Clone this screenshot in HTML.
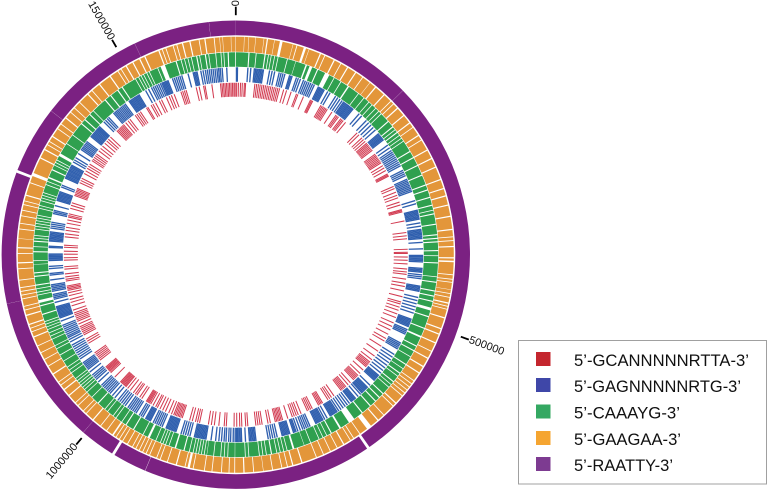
<!DOCTYPE html>
<html>
<head>
<meta charset="utf-8">
<title>Motif distribution circular genome plot</title>
<style>
html,body{margin:0;padding:0;background:#fff;}
svg{display:block;}
text{font-family:"Liberation Sans",sans-serif;}
</style>
</head>
<body>
<svg id="plot" xmlns="http://www.w3.org/2000/svg" width="767" height="490" viewBox="0 0 767 490">
  <rect x="0" y="0" width="767" height="490" fill="#ffffff"/>
  <g id="ring-purple"></g>
  <g id="ring-orange"></g>
  <g id="ring-green"></g>
  <g id="ring-blue"></g>
  <g id="ring-red"></g>
  <g id="ticks"></g>
  <g>
    <rect x="518.5" y="340.5" width="248" height="143.5" fill="#ffffff" stroke="#a0a0a0" stroke-width="1"/>
    <rect x="536" y="352" width="14.5" height="14" fill="#c4262e"/>
    <text x="574" y="366" font-size="17" fill="#111111" textLength="175" lengthAdjust="spacingAndGlyphs">5’-GCANNNNNRTTA-3’</text>
    <rect x="536" y="378" width="14.5" height="14" fill="#3f47a8"/>
    <text x="574" y="392" font-size="17" fill="#111111" textLength="167" lengthAdjust="spacingAndGlyphs">5’-GAGNNNNNRTG-3’</text>
    <rect x="536" y="404.5" width="14.5" height="14" fill="#34a862"/>
    <text x="574" y="418.5" font-size="17" fill="#111111" textLength="106" lengthAdjust="spacingAndGlyphs">5’-CAAAYG-3’</text>
    <rect x="536" y="431" width="14.5" height="14" fill="#f5a531"/>
    <text x="574" y="445" font-size="17" fill="#111111" textLength="107" lengthAdjust="spacingAndGlyphs">5’-GAAGAA-3’</text>
    <rect x="536" y="457" width="14.5" height="14" fill="#7d3b91"/>
    <text x="574" y="471" font-size="17" fill="#111111" textLength="99" lengthAdjust="spacingAndGlyphs">5’-RAATTY-3’</text>
  </g>
</svg>
<script>
// Genome axis: positions below are given in genome bins (1 bin = genomeBp / binCount base pairs).
const genomeBp = 1636000;
const binCount = 360;
const tickValues = [0, 500000, 1000000, 1500000];
const tickLabels = ["0", "500000", "1000000", "1500000"];

// 5'-RAATTY-3' contigs/runs [start, end]
const purpleRuns = [[0,45.48],[45.52,145.2],[145.9,202.74],[202.82,211.2],[211.9,220.62],[220.66,257.88],[257.92,290.5],[291.2,307.88],[307.92,334.38],[334.42,353.38],[353.42,360]];

// 5'-GAAGAA-3' hit clusters [start, end]
const orangeRuns = [[0,2],[2.3,3.2],[3.5,5],[5.3,7.2],[7.5,8],[8.5,10],[10.3,11.5],[12.4,15],[15.3,16],[16.4,18],[18.8,19.4],[19.7,22.5],[23,23.8],[24.2,26.5],[27,28.5],[28.9,30.5],[31,33],[33.5,35.3],[35.7,37.7],[38,39.5],[40,42.5],[43,45],[45.4,46],[46.4,47.5],[48,50],[50.5,52.5],[53,54],[54.4,56.5],[57,58],[58.4,61],[61.5,63.5],[64,66],[66.5,69.5],[70,72],[72.5,74],[74.5,76.5],[77,79.5],[80,83],[83.5,85],[85.4,86],[86.4,87.5],[88,90.5],
[91,91.4],[92,95],[95.4,96.2],[96.6,97],[97.4,99],[99.3,100],[100.4,101],[101.4,102.5],[103,103.4],[103.8,104.2],[104.6,106.5],[107,109.5],[110,111],[111.5,113.5],[114,116],[116.4,118],[118.5,120.5],[121,122.5],[123,125],[125.4,126],[126.4,127],[127.4,128],[128.4,129],[129.4,130],[130.4,132.5],[133,133.6],[134,137],[137.4,139],[139.5,141.5],[143,145],[145.4,147],[147.4,148],[148.4,150],[150.5,152],[152.4,154],[154.4,156],[156.4,158],[158.4,162],[162.5,164.5],[165,166],[166.4,167.5],[167.9,170],[170.4,172.5],[172.8,175],[175.4,177.5],[178,180],
[180.4,181.5],[181.9,183.5],[183.9,186],[186.4,188],[188.4,191],[191.4,192],[192.8,193.2],[193.6,195.5],[196,198],[198.4,200],[200.4,201],[201.4,203],[203.4,204],[204.4,205],[205.4,206],[206.4,207],[207.4,208],[208.4,209.5],[209.9,211],[211.4,212],[212.4,213],[213.4,213.9],[214.5,216],[216.4,218],[218.4,220.5],[221,223],[223.4,224],[224.4,226],[226.4,227],[227.4,229.5],[230,231.5],[232,233],[233.4,234],[234.4,236.5],[237,239],[239.4,241],[241.4,243],[243.4,245],[245.4,247.5],[248,249],[249.4,250],[250.4,251],[251.5,253.5],[254,255],[255.4,256],[256.4,258],[258.4,259],[259.4,260],[260.4,261],[261.4,263],[263.4,266],[266.4,267.5],[268,270],[270.4,271.5],[272,274],[274.3,276.5],[276.9,278],[278.4,280],[280.4,281.5],[281.9,283],[283.4,284],[284.4,285.5],[286,289],[289.4,291],[292,296],[296.5,298.5],[299,300],[300.4,301],[301.4,302.5],[303,305],[305.4,306.5],[306.9,308.5],[309,310.5],[310.9,312],[312.4,314],[314.4,317],[317.5,318.5],[318.9,321],[321.5,324.5],[325,327],[327.4,328],[328.4,329.5],[330,331.5],[332,333.5],[334,335],[335.5,339],[339.5,340],[340.4,341],[341.4,343],[343.4,344],[344.4,345.5],[346,347.5],[348,350],[350.4,351.5],[352,354],[354.4,355.5],[355.8,356.3],[356.6,358.5],[358.8,359.7]];

// 5'-CAAAYG-3' hit clusters [start, end]
const greenRuns = [[0,3.4],[3.9,5.5],[5.9,8],[8.5,9],[9.4,9.8],[10.2,10.8],[11.2,11.8],[12.2,14.5],[14.9,17],[17.3,20],[20.6,21.2],[22.2,23.5],[24,26],[27.5,28.8],[29.2,31],[31.4,33.4],[34,37],[37.4,39],[39.4,40.8],[41.2,42],[42.4,43.4],[43.8,44.6],[45,45.6],[46,48.5],[49,50.5],[51,51.6],[52,52.5],[53,53.6],[54,54.6],[55,55.6],[56,59],[59.5,61],[61.5,63.5],[64,66.5],[67,69.5],[70,71],[71.5,73.2],[73.7,75.5],[76,77],[77.4,78],[78.5,81],[81.5,84],[84.5,85],[85.5,86],[86.5,88.5],
[89,90],[90.4,92],[92.5,96],[96.4,97.5],[98,100],[100.5,101.5],[102,103],[103.5,105],[106,107.5],[108,111],[111.5,113.5],[114.2,116.5],[117,118],[118.5,120],[120.4,122.5],[123,124],[124.4,125.5],[126,126.6],[127,128.5],[129,129.6],[130,130.6],[131,133],[133.5,134.5],[135,136],[136.5,138],[138.5,141],[141.5,144],[146,148.5],[149.2,151.5],[152,153],[153.4,154.2],[154.6,155.4],[155.8,158],[158.4,160],[160.3,163],[163.7,165],[165.4,166],[166.4,167],[167.4,168],[168.4,169.5],[170,171],[171.4,172],[172.4,173],[173.4,176],[176.4,177],[177.4,180],
[180.3,182],[182.4,183],[183.4,184],[184.4,186],[186.4,188],[188.3,188.7],[189.1,189.5],[189.9,190.3],[190.7,191.1],[191.5,191.9],[192.3,193],[193.4,194.5],[195,197],[197.6,199],[199.4,200],[200.4,200.8],[201.2,201.6],[202,203],[203.4,205],[205.8,207],[207.4,210],[210.5,212.5],[213,214],[214.4,216],[216.4,217],[217.4,219],[219.4,220],[220.4,222.5],[223,225],[225.4,227],[227.4,228],[228.4,228.8],[229.2,229.6],[230,230.4],[230.8,231.2],[231.6,232],[232.4,234],[234.4,235],[235.4,236],[236.4,238],[238.4,240],[240.4,242],[242.4,243],[243.4,245],[245.4,246],[246.4,247],[247.4,248],[248.4,248.8],[249.2,249.6],[250,250.4],[250.8,252.5],[253,255],[255.5,256],[257,258.2],[258.6,259],[259.4,260],[260.4,261],[261.5,263.5],[264,264.5],[265,267],[267.3,268],[268.4,270.5],[271,272],[272.4,273.5],[274,274.4],[274.8,275.2],[275.6,277],[277.4,277.8],[278.2,278.6],[279,279.4],[279.8,280.2],[280.6,281],[281.4,283],[283.4,283.8],[284.2,285.2],[285.6,286],[286.4,286.8],[287.2,287.6],[288,290],[290.4,291],[291.4,292],[292.6,294.5],[295,296],[296.4,296.8],[297.2,297.6],[298,299],[300,303],[303.4,306],[306.4,310],[310.5,311.5],[312,313.5],[314,315],[315.4,319.5],[320,321.5],[322,324],[324.5,325.5],[326,330],[330.4,331],[331.4,331.8],[332.2,332.6],[333,333.6],[334,334.4],[334.8,337],[337.4,338],[339.5,342.5],[343,344],[344.4,345],[345.4,346],[346.4,347],[347.4,348.5],[349,349.4],[349.8,351],[351.5,352],[352.4,354],[354.4,355.5],[355.9,356.3],[356.7,357.5],[358,359.6]];

// 5'-GAGNNNNNRTG-3' individual hits
const blueHits = [0,0.3,3.5,4.4,5.5,5.9,6.3,6.7,7.1,7.5,7.9,8.3,10.2,11,11.8,13.2,13.8,14.4,15,16.5,16.9,17.3,18.7,19.3,20,21,21.6,22.2,22.8,23.4,24,24.6,26,26.4,26.8,27.2,27.6,28,29.2,30,32,32.8,33.6,34.4,35,35.4,35.8,36.2,36.6,37,37.4,37.8,38.2,38.6,41,42,44,45,46,47,48,49.5,49.9,50.3,50.7,51.1,51.5,51.9,54,55,56,56.6,57.2,57.8,58.4,59,59.6,60.2,60.8,61.4,63,63.6,64.2,64.8,66,66.5,67,67.5,68,68.5,69,69.5,70,73,74,76,76.4,76.8,77.2,77.6,78,78.4,78.8,80,81,82,82.4,82.8,83.2,83.6,84,84.4,84.8,86,88,
90,90.4,90.8,91.2,91.6,92,94,94.4,94.8,95.2,96,96.6,97.2,99.5,99.9,100.3,100.7,101.1,103,104,105,106,107,108,110,110.4,110.8,111.2,111.6,112,112.4,113.4,113.9,114.4,114.9,118,118.5,119,119.5,120,122,123,124,125,126,127,128,129,130,130.4,130.8,131.2,131.6,132,134,135,135.4,135.8,136.2,136.6,137,137.4,138,139,140,140.4,140.8,141.2,141.6,142.4,143.2,144,144.8,145.6,146.4,147,147.4,147.8,148.2,148.6,149,149.4,150.6,151.4,152,152.4,152.8,153.2,153.6,154,154.4,156.4,157,157.6,158.2,158.8,159.6,160.4,161,161.4,161.8,163,163.4,163.8,164.2,164.6,165,165.4,167,167.7,168.4,169.1,169.8,173.6,174,174.4,174.8,175.2,175.6,176.8,178,178.4,178.8,179.2,179.6,
180,180.6,181.4,182,182.8,183.4,184.2,185,186,187.4,189,189.4,189.8,190.2,190.6,191,191.4,191.8,192.2,192.6,194,194.7,195.4,196.1,196.8,198.5,198.9,199.3,199.7,200.1,200.5,200.9,201.3,201.7,203,203.6,204.2,204.8,205.4,206,207,207.4,207.8,208.2,208.6,209.6,210.2,210.8,212,212.6,213.2,213.8,214.4,215,216,216.7,217.4,218.1,218.8,220,221,222,222.6,223.2,223.8,224.4,225,225.6,227,228,228.6,229.2,229.8,231,232,232.5,233,233.5,234,234.5,236,236.7,237.4,238.1,238.8,239.5,240.2,240.9,242,242.8,243.5,244,244.6,245.2,245.8,246.4,247,247.6,249,250,250.4,250.8,251.2,251.6,252,252.4,252.8,253.2,253.6,255,256,256.5,257,257.5,258.5,259,259.5,260,260.5,262,263.5,264,265.5,266.2,268,268.4,268.8,269.2,269.6,270,272,272.4,274,274.4,274.8,275.2,275.6,276,276.4,276.8,278,278.6,279.2,279.8,282.5,283,283.5,285,286.7,287.1,287.5,287.9,288.3,288.7,289.1,289.5,291,291.6,294,294.4,294.8,295.2,295.6,296,296.4,296.8,297.2,297.6,298,298.4,299.5,300.2,301,302.5,304,304.5,305,305.5,306,306.5,307,309,309.4,309.8,310.2,310.6,311,311.4,311.8,312.2,312.6,313,315,315.7,316.4,317,319,319.5,320,320.5,321,321.5,322,322.5,323,323.5,325,325.4,325.8,326.2,326.6,327,327.4,327.8,328.2,328.6,331,332,333,333.6,334.2,334.8,335.4,336,336.5,336.9,337.3,337.7,338.1,338.5,340,340.6,341.2,341.8,342.4,343,345,346.6,347,347.4,347.8,349,349.7,350.4,351,351.6,352.2,352.8,353.4,354,354.5,355,355.6,357];

// 5'-GCANNNNNRTTA-3' individual hits
const redHits = [0.1,0.7,1.4,2,2.7,3.1,6.2,6.8,7.4,8,8.6,9.2,9.8,10.4,11,11.6,12.2,12.8,13.4,14,14.6,16,17,18.6,20.5,21,23,25.6,26,26.4,29.5,30,30.5,31,31.5,32,33.8,35.5,36,36.5,37.5,38,38.5,39.5,44.7,45.6,47,47.8,48.6,49.4,49.9,50.4,50.9,51.4,51.9,52.4,54,54.5,55,55.5,56,56.5,57,57.5,58.6,59.5,60.5,61.8,62.2,62.6,66.4,67.2,68.5,69.6,70.5,72,73,74.6,75,75.4,78.5,82.4,83.5,84.5,88,89,
89.4,90.6,91.7,92.9,94.6,95.6,96.4,98,99.4,100.5,102,104,105.8,106.5,107.6,108.7,110,111.3,113.2,114.5,115.8,117.4,119,120,122,124,126,127.5,128.5,129,129.5,130,130.5,132,133.5,134.5,135,135.5,136,136.5,138,139,140,140.5,141,141.5,142,145,146,146.7,147.4,149.5,150,150.5,151,153.4,154,154.6,155.2,157.5,158.5,159.2,159.9,160.6,162.2,164,164.5,165,165.5,166,166.5,168.2,169,171,171.7,172.4,173.1,175.8,176.5,177.8,178.5,179.5,
180.4,183,183.7,185.5,187,188,189,192,192.7,193.4,194.5,195.4,198,198.5,199,199.5,200,200.5,201,201.8,202.8,204,205,206,207,207.6,208.6,209.5,210,210.4,210.8,211.2,213,213.8,215,215.6,216.4,217.7,218.8,219.6,220,220.4,220.8,221.2,221.6,222,224.5,226.5,227,227.4,227.8,228.2,228.6,229,232,232.6,233.2,233.8,234.4,235,238.8,239.6,240.4,242,242.6,243.2,243.8,244.4,245,246,247,247.6,248.2,248.8,249.4,250,251,252.5,253.7,254.7,256,257,257.8,258.3,258.8,259.3,261,261.6,262.4,263.4,265,265.8,268,268.8,270,271,272.3,273,275.8,276.8,278,279,280.4,281.5,282.5,283,283.6,285.5,286.5,287.4,290,290.5,291,291.5,292,292.5,294.6,295.4,296.2,298,299,300,300.8,301.6,303,303.6,304.3,305,305.7,307,308,309,310.2,311.2,312,313,316,316.5,317,317.5,318,318.5,319,320,321,321.8,324,324.7,325.4,326.1,328.5,329,330.3,331,332,333.4,334.2,336,337,337.8,338.8,341.2,341.8,342.4,343,346.5,347.5,349,349.5,351.8,354.7,355.2,355.7,356.2,356.7,357.2,357.7,358.2,358.7,359.2,359.6];

const NS = "http://www.w3.org/2000/svg";
const cx = 235.8, cy = 254.7;

function angleOfBin(bin) { return bin / binCount * 360; }
function angleOfBp(bp) { return bp / genomeBp * 360; }
function polar(r, deg) {
  const a = deg * Math.PI / 180;
  return [cx + r * Math.sin(a), cy - r * Math.cos(a)];
}
function wedge(r1, r2, a1, a2) {
  const large = (a2 - a1) > 180 ? 1 : 0;
  const p1 = polar(r2, a1), p2 = polar(r2, a2), p3 = polar(r1, a2), p4 = polar(r1, a1);
  return "M" + p1[0].toFixed(2) + " " + p1[1].toFixed(2) +
    "A" + r2 + " " + r2 + " 0 " + large + " 1 " + p2[0].toFixed(2) + " " + p2[1].toFixed(2) +
    "L" + p3[0].toFixed(2) + " " + p3[1].toFixed(2) +
    "A" + r1 + " " + r1 + " 0 " + large + " 0 " + p4[0].toFixed(2) + " " + p4[1].toFixed(2) + "Z";
}
function drawRuns(groupId, runs, pad, r1, r2, color, markName) {
  const g = document.getElementById(groupId);
  runs.forEach(function (run) {
    const el = document.createElementNS(NS, "path");
    el.setAttribute("d", wedge(r1, r2, angleOfBin(run[0]), angleOfBin(run[1] + pad)));
    el.setAttribute("fill", color);
    
    
    g.appendChild(el);
  });
}
function drawHits(groupId, hits, width, r1, r2, color, markName) {
  const g = document.getElementById(groupId);
  hits.forEach(function (hit) {
    const el = document.createElementNS(NS, "path");
    el.setAttribute("d", wedge(r1, r2, angleOfBin(hit), angleOfBin(hit + width)));
    el.setAttribute("fill", color);
    
    
    g.appendChild(el);
  });
}

drawRuns("ring-purple", purpleRuns, 0, 219.5, 234.2, "#7b2182", "raatty-segment");
drawRuns("ring-orange", orangeRuns, 0.18, 203, 218, "#e3963a", "gaagaa-hit");
drawRuns("ring-green", greenRuns, 0.18, 188, 202.4, "#2fa04f", "caaayg-hit");
drawHits("ring-blue", blueHits, 0.42, 173, 187.4, "#2f5fae", "gagnnnnnrtg-hit");
drawHits("ring-red", redHits, 0.36, 158, 172, "#d23c52", "gcannnnnrtta-hit");

const tickGroup = document.getElementById("ticks");
tickValues.forEach(function (value, i) {
  const deg = angleOfBp(value);
  const a = polar(239.5, deg), b = polar(248, deg), t = polar(248.5, deg);
  const line = document.createElementNS(NS, "line");
  line.setAttribute("x1", a[0]);
  line.setAttribute("y1", a[1]);
  line.setAttribute("x2", b[0]);
  line.setAttribute("y2", b[1]);
  line.setAttribute("stroke", "#000000");
  line.setAttribute("stroke-width", "1.8");
  
  
  tickGroup.appendChild(line);
  const label = document.createElementNS(NS, "text");
  const leftSide = deg > 180;
  const rot = leftSide ? deg + 90 : deg - 90;
  label.setAttribute("transform", "translate(" + t[0] + " " + t[1] + ") rotate(" + rot + ")");
  label.setAttribute("text-anchor", leftSide ? "end" : "start");
  label.setAttribute("dominant-baseline", "central");
  label.setAttribute("font-size", "11");
  label.setAttribute("fill", "#111111");
  
  
  label.textContent = tickLabels[i];
  tickGroup.appendChild(label);
});
</script>
</body>
</html>
